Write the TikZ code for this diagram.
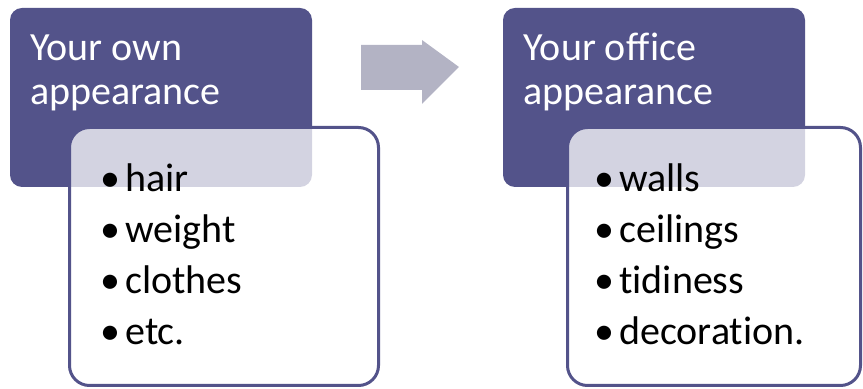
\documentclass[tikz,border=0pt]{standalone}
\usepackage{fontspec}
\setmainfont{Carlito}[Ligatures=NoCommon]
\usetikzlibrary{positioning}

\definecolor{headpurple}{RGB}{83,83,138}
\definecolor{arrowgrey}{RGB}{179,179,196}

\tikzset{
    headbox/.style={fill=headpurple, rounded corners=6pt, anchor=north west,
        inner sep=0pt, outer sep=0pt, minimum width=151pt, minimum height=89.5pt},
    listbox/.style={draw=headpurple, line width=1.5pt, fill=white, fill opacity=0.75,
        rounded corners=10pt, anchor=north west, inner sep=0pt, outer sep=0pt,
        minimum height=129pt},
    headtext/.style={text=white, align=left, anchor=base west, inner sep=0pt,
        font=\fontsize{20}{22}\selectfont},
    itemtext/.style={align=left, anchor=base west, inner sep=0pt,
        font=\fontsize{20}{25.5}\selectfont}
}

\begin{document}
\begin{tikzpicture}[x=0.5pt,y=-0.5pt]
    \useasboundingbox (0,0) rectangle (863,389);

    % own appearance
    \node[headbox] (ownhead) at (10,8) {};
    \node[headtext] (owntitle) at (30,105) {Your own\\appearance};
    \node[listbox, minimum width=154.5pt] (ownlist) at (69.5,127.5) {};
    \node[itemtext] (ownitems) at (100,345)
        {\textbullet\hspace{2.5pt}hair\\\textbullet\hspace{2.5pt}weight\\
         \textbullet\hspace{2.5pt}clothes\\\textbullet\hspace{2.5pt}etc.};

    % arrow
    \fill[arrowgrey] (361,45) -- (422,45) -- (422,40) -- (459,67)
        -- (422,104) -- (422,90) -- (361,90) -- cycle;

    % office appearance
    \node[headbox] (officehead) at (503,8) {};
    \node[headtext] (officetitle) at (523,105) {Your office\\appearance};
    \node[listbox, minimum width=146.5pt] (officelist) at (567.5,127.5) {};
    \node[itemtext] (officeitems) at (594,345)
        {\textbullet\hspace{2.5pt}walls\\\textbullet\hspace{2.5pt}ceilings\\
         \textbullet\hspace{2.5pt}tidiness\\\textbullet\hspace{2.5pt}decoration.};
\end{tikzpicture}
\end{document}
